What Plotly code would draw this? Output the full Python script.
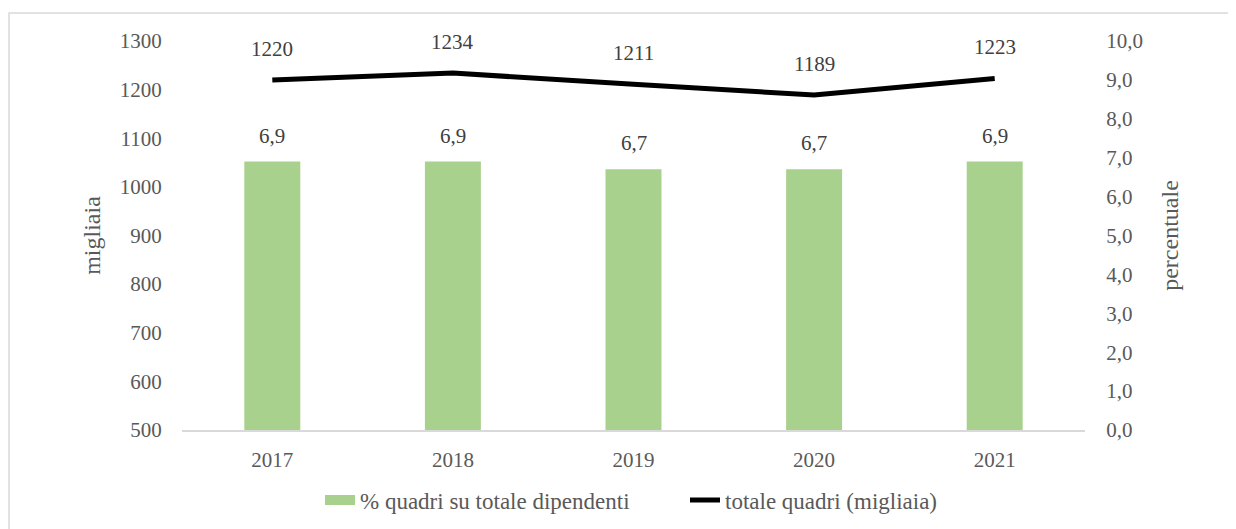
import plotly.graph_objects as go

years = ["2017", "2018", "2019", "2020", "2021"]
pct_quadri = [6.9, 6.9, 6.7, 6.7, 6.9]
tot_quadri = [1220, 1234, 1211, 1189, 1223]

bar_name = "% quadri su totale dipendenti"
line_name = "totale quadri (migliaia)"
left_title = "migliaia"
right_title = "percentuale"

FONT = "Liberation Serif"
TICK_COLOR = "#595959"
LABEL_COLOR = "#404040"
BAR_COLOR = "#a9d18e"

fig = go.Figure()
fig.add_trace(go.Bar(
    x=years, y=pct_quadri, name=bar_name, yaxis="y2", showlegend=False,
    marker=dict(color=BAR_COLOR, line=dict(width=0)), width=0.31,
))
# legend-only entry for the bars (wide swatch like the original)
fig.add_trace(go.Scatter(
    x=[None], y=[None], name=bar_name, yaxis="y2", mode="lines",
    line=dict(color=BAR_COLOR, width=14), hoverinfo="skip",
))
fig.add_trace(go.Scatter(
    x=years, y=tot_quadri, name=line_name, yaxis="y", mode="lines",
    line=dict(color="#000000", width=5),
))

annotations = []
for i, v in enumerate(tot_quadri):
    annotations.append(dict(x=i, y=v, xref="x", yref="y", text=str(v),
                            showarrow=False, yshift=31,
                            font=dict(family=FONT, size=21, color=LABEL_COLOR)))
for i, v in enumerate(pct_quadri):
    annotations.append(dict(x=i, y=v, xref="x", yref="y2",
                            text=f"{v:.1f}".replace(".", ","),
                            showarrow=False, yshift=26,
                            font=dict(family=FONT, size=21, color=LABEL_COLOR)))

fig.update_layout(
    width=1228, height=521,
    margin=dict(l=174, r=151, t=33, b=99, autoexpand=False),
    paper_bgcolor="white", plot_bgcolor="white",
    separators=",.",
    font=dict(family=FONT, size=21, color=TICK_COLOR),
    showlegend=True,
    legend=dict(orientation="h", x=(320 - 182) / 903, xanchor="left", y=-0.18, yanchor="middle",
                font=dict(family=FONT, size=23, color=TICK_COLOR),
                entrywidth=320, tracegroupgap=0),
    xaxis=dict(type="category", range=[-0.5, len(years) - 0.5], categoryorder="array",
               categoryarray=years, showgrid=False, showline=True,
               linecolor="#d9d9d9", linewidth=2,
               ticks="outside", ticklen=10, tickcolor="rgba(0,0,0,0)", automargin=False,
               tickfont=dict(family=FONT, size=21, color=TICK_COLOR)),
    yaxis=dict(range=[500, 1300], dtick=100, tickformat="d", showgrid=False,
               showline=False, zeroline=False, automargin=False,
               ticks="outside", ticklen=15, tickcolor="rgba(0,0,0,0)",
               tickfont=dict(family=FONT, size=21, color=TICK_COLOR),
               title=dict(text=left_title, standoff=12,
                          font=dict(family=FONT, size=24, color=TICK_COLOR))),
    yaxis2=dict(range=[0, 10], dtick=1, tickformat=".1f", overlaying="y", side="right",
                showgrid=False, showline=False, zeroline=False, automargin=False,
                ticks="outside", ticklen=16, tickcolor="rgba(0,0,0,0)",
                tickfont=dict(family=FONT, size=21, color=TICK_COLOR),
                title=dict(text=right_title, standoff=19,
                           font=dict(family=FONT, size=24, color=TICK_COLOR))),
    annotations=annotations,
    shapes=[dict(type="rect", xref="paper", yref="paper",
                 x0=-173/903, x1=1.3, y0=-0.4, y1=(430-13)/389,
                 line=dict(color="#d9d9d9", width=1.5), fillcolor="rgba(0,0,0,0)",
                 layer="below")],
)

fig.write_html("out.html")
